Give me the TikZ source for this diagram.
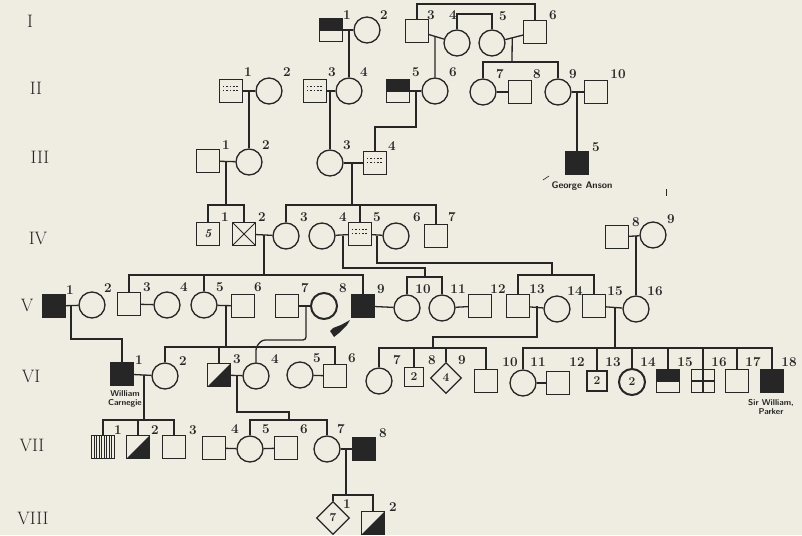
\documentclass[tikz,border=0pt]{standalone}
\usepackage{tikz}
\usetikzlibrary{shapes.geometric,calc}
\definecolor{paper}{HTML}{EFECE2}
\definecolor{ink}{HTML}{262626}

\tikzset{
  ln/.style={ink, line width=1.3pt},
  male/.style={draw=ink, line width=1.3pt, rectangle, minimum size=22.5pt, inner sep=0pt},
  female/.style={draw=ink, line width=1.3pt, circle, minimum size=26pt, inner sep=0pt},
  anysex/.style={draw=ink, line width=1.3pt, diamond, minimum size=31pt, inner sep=0pt},
  aff/.style={fill=ink},
  halfaff/.style={path picture={\fill[ink] (path picture bounding box.north west) rectangle ([yshift=-1pt]path picture bounding box.east);}},
  diagaff/.style={path picture={\fill[ink] (path picture bounding box.south west) -- (path picture bounding box.north east) -- (path picture bounding box.south east) -- cycle;}},
  speck/.style={path picture={\foreach \dy in {6.5pt,10.5pt}{\draw[ink, line width=1.4pt, dash pattern=on 1.6pt off 1.8pt] ([xshift=3pt,yshift=-\dy]path picture bounding box.north west) -- ([xshift=-3pt,yshift=-\dy]path picture bounding box.north east);}}},
  striped/.style={path picture={\foreach \k in {1,...,8}{\draw[ink, line width=1.1pt] ($(path picture bounding box.south west)!\k/9!(path picture bounding box.south east)$) -- ($(path picture bounding box.north west)!\k/9!(path picture bounding box.north east)$);}}},
  quad/.style={path picture={\draw[ink, line width=1.2pt] (path picture bounding box.north) -- (path picture bounding box.south) (path picture bounding box.west) -- (path picture bounding box.east);}},
  xmark/.style={path picture={\draw[ink, line width=1pt] (path picture bounding box.north west) -- (path picture bounding box.south east) (path picture bounding box.north east) -- (path picture bounding box.south west);}},
  num/.style={font=\bfseries\fontsize{13.5}{14}\selectfont, text=ink, inner sep=0pt},
  inner/.style={font=\bfseries\fontsize{12}{12}\selectfont, text=ink},
  gen/.style={font=\fontsize{18}{18}\selectfont, text=ink, inner sep=0pt},
  who/.style={font=\sffamily\bfseries\fontsize{8.5}{9}\selectfont, text=ink, inner sep=0pt}
}

\begin{document}
\begin{tikzpicture}[x=1pt, y=-1pt]
  % Paper
  \fill[paper] (0,0) rectangle (802,535);
  \useasboundingbox (0,0) rectangle (802,535);

  % Generation numerals
  \node[gen] (genI) at (30,21) {I};
  \node[gen] (genII) at (36,88) {II};
  \node[gen] (genIII) at (40,157) {III};
  \node[gen] (genIV) at (38,238) {IV};
  \node[gen] (genV) at (27,305) {V};
  \node[gen] (genVI) at (31,376) {VI};
  \node[gen] (genVII) at (32,445) {VII};
  \node[gen] (genVIII) at (33,518) {VIII};

  % Generation I
  \node[male, halfaff] (I-1) at (331,30) {};
  \node[female] (I-2) at (367,30) {};
  \node[male] (I-3) at (417,31) {};
  \node[female] (I-4) at (457,43) {};
  \node[female] (I-5) at (492,43) {};
  \node[male] (I-6) at (535,32) {};
  \node[num] (I-1n) at (347,15) {1};
  \node[num] (I-2n) at (384,15) {2};
  \node[num] (I-3n) at (431,15) {3};
  \node[num] (I-4n) at (453,15) {4};
  \node[num] (I-5n) at (503,16) {5};
  \node[num] (I-6n) at (553,15) {6};

  % Generation II
  \node[male, speck] (II-1) at (231,91) {};
  \node[female] (II-2) at (269,91) {};
  \node[male, speck] (II-3) at (315,91) {};
  \node[female] (II-4) at (349,91) {};
  \node[male, halfaff] (II-5) at (398,91) {};
  \node[female] (II-6) at (435,91) {};
  \node[female] (II-7) at (483,92) {};
  \node[male] (II-8) at (520,92) {};
  \node[female] (II-9) at (558,92) {};
  \node[male] (II-10) at (596,92) {};
  \node[num] (II-1n) at (248,72) {1};
  \node[num] (II-2n) at (287,72) {2};
  \node[num] (II-3n) at (332,72) {3};
  \node[num] (II-4n) at (364,72) {4};
  \node[num] (II-5n) at (416,72) {5};
  \node[num] (II-6n) at (453,72) {6};
  \node[num] (II-7n) at (500,74) {7};
  \node[num] (II-8n) at (537,74) {8};
  \node[num] (II-9n) at (573,74) {9};
  \node[num] (II-10n) at (618,74) {10};

  % Generation III
  \node[male] (III-1) at (208,161) {};
  \node[female] (III-2) at (249,162) {};
  \node[female] (III-3) at (330,163) {};
  \node[male, speck] (III-4) at (375,163) {};
  \node[male, aff] (III-5) at (577,163) {};
  \node[num] (III-1n) at (226,145) {1};
  \node[num] (III-2n) at (266,145) {2};
  \node[num] (III-3n) at (347,145) {3};
  \node[num] (III-4n) at (392,146) {4};
  \node[num] (III-5n) at (596,147) {5};
  \node[who, font=\sffamily\bfseries\fontsize{9.5}{10}\selectfont] (anson) at (582,186) {George Anson};

  % Generation IV
  \node[male, inner] (IV-1) at (208,234) {\itshape 5};
  \node[male, xmark] (IV-2) at (244,234) {};
  \node[female] (IV-3) at (286,236) {};
  \node[female] (IV-4) at (322,236) {};
  \node[male, speck] (IV-5) at (360,234) {};
  \node[female] (IV-6) at (396,236) {};
  \node[male] (IV-7) at (436,236) {};
  \node[male] (IV-8) at (617,237) {};
  \node[female] (IV-9) at (653,235) {};
  \node[num] (IV-1n) at (225,217) {1};
  \node[num] (IV-2n) at (262,217) {2};
  \node[num] (IV-3n) at (304,217) {3};
  \node[num] (IV-4n) at (343,217) {4};
  \node[num] (IV-5n) at (377,217) {5};
  \node[num] (IV-6n) at (417,217) {6};
  \node[num] (IV-7n) at (452,217) {7};
  \node[num] (IV-8n) at (636,222) {8};
  \node[num] (IV-9n) at (671,219) {9};

  % Generation V
  \node[male, aff] (V-1) at (54,306) {};
  \node[female] (V-2) at (92,305) {};
  \node[male] (V-3) at (129,304) {};
  \node[female] (V-4) at (167,305) {};
  \node[female] (V-5) at (204,305) {};
  \node[male] (V-6) at (243,306) {};
  \node[male] (V-7) at (287,306) {};
  \node[female, line width=2pt] (V-8) at (324,306) {};
  \node[male, aff] (V-9) at (363,306) {};
  \node[female] (V-10) at (407,308) {};
  \node[female] (V-11) at (442,308) {};
  \node[male] (V-12) at (480,306) {};
  \node[male] (V-13) at (518,306) {};
  \node[female] (V-14) at (557,309) {};
  \node[male] (V-15) at (594,306) {};
  \node[female] (V-16) at (636,309) {};
  \node[num] (V-1n) at (70,290) {1};
  \node[num] (V-2n) at (108,288) {2};
  \node[num] (V-3n) at (147,287) {3};
  \node[num] (V-4n) at (184,287) {4};
  \node[num] (V-5n) at (220,287) {5};
  \node[num] (V-6n) at (258,287) {6};
  \node[num] (V-7n) at (305,288) {7};
  \node[num] (V-8n) at (343,288) {8};
  \node[num] (V-9n) at (381,289) {9};
  \node[num] (V-10n) at (423,289) {10};
  \node[num] (V-11n) at (458,289) {11};
  \node[num] (V-12n) at (498,289) {12};
  \node[num] (V-13n) at (537,289) {13};
  \node[num] (V-14n) at (575,291) {14};
  \node[num] (V-15n) at (615,291) {15};
  \node[num] (V-16n) at (655,291) {16};

  % Generation VI
  \node[male, aff] (VI-1) at (122,374) {};
  \node[female] (VI-2) at (165,376) {};
  \node[male, diagaff] (VI-3) at (219,375) {};
  \node[female] (VI-4) at (256,376) {};
  \node[female] (VI-5) at (300,375) {};
  \node[male] (VI-6) at (335,376) {};
  \node[female] (VI-7) at (379,381) {};
  \node[male, inner, minimum size=19.5pt] (VI-8) at (414,377) {2};
  \node[anysex, inner] (VI-9) at (446,378) {4};
  \node[male] (VI-10) at (486,381) {};
  \node[female] (VI-11) at (523,383) {};
  \node[male] (VI-12) at (558,383) {};
  \node[male, inner, minimum size=20pt] (VI-13) at (597,381) {2};
  \node[female, inner, line width=2pt] (VI-14) at (632,382) {2};
  \node[male, halfaff] (VI-15) at (668,381) {};
  \node[male, quad] (VI-16) at (703,381) {};
  \node[male] (VI-17) at (737,381) {};
  \node[male, aff] (VI-18) at (772,381) {};
  \node[num] (VI-1n) at (139,360) {1};
  \node[num] (VI-2n) at (183,361) {2};
  \node[num] (VI-3n) at (237,359) {3};
  \node[num] (VI-4n) at (275,359) {4};
  \node[num] (VI-5n) at (317,358) {5};
  \node[num] (VI-6n) at (352,358) {6};
  \node[num] (VI-7n) at (397,360) {7};
  \node[num] (VI-8n) at (432,360) {8};
  \node[num] (VI-9n) at (462,360) {9};
  \node[num] (VI-10n) at (510,362) {10};
  \node[num] (VI-11n) at (538,362) {11};
  \node[num] (VI-12n) at (577,362) {12};
  \node[num] (VI-13n) at (613,362) {13};
  \node[num] (VI-14n) at (648,362) {14};
  \node[num] (VI-15n) at (685,362) {15};
  \node[num] (VI-16n) at (719,362) {16};
  \node[num] (VI-17n) at (753,362) {17};
  \node[num] (VI-18n) at (789,362) {18};
  \node[who, align=center] (carnegie) at (125,399) {William\\Carnegie};
  \node[who, align=center] (parker) at (771,407) {Sir William,\\Parker};

  % Generation VII
  \node[male, striped] (VII-1) at (103,447) {};
  \node[male, diagaff] (VII-2) at (138,447) {};
  \node[male] (VII-3) at (174,447) {};
  \node[male] (VII-4) at (214,448) {};
  \node[female] (VII-5) at (250,449) {};
  \node[male] (VII-6) at (286,448) {};
  \node[female] (VII-7) at (327,449) {};
  \node[male, aff] (VII-8) at (364,449) {};
  \node[num] (VII-1n) at (118,430) {1};
  \node[num] (VII-2n) at (155,430) {2};
  \node[num] (VII-3n) at (193,430) {3};
  \node[num] (VII-4n) at (235,429) {4};
  \node[num] (VII-5n) at (266,429) {5};
  \node[num] (VII-6n) at (304,429) {6};
  \node[num] (VII-7n) at (341,429) {7};
  \node[num] (VII-8n) at (383,433) {8};

  % Generation VIII
  \node[anysex, inner, minimum size=33pt] (VIII-1) at (333,518) {7};
  \node[male, diagaff] (VIII-2) at (373,523) {};
  \node[num] (VIII-1n) at (347,504) {1};
  \node[num] (VIII-2n) at (393,507) {2};

  % Brackets over generation I
  \coordinate (top36) at (476,4);
  \coordinate (top45) at (475,14);
  \draw[ln] (I-3.north) |- (top36) -| (I-6.north);
  \draw[ln] (I-4.north) |- (top45) -| (I-5.north);

  % Marriages and descent, I -> II
  \draw[ln] (I-1) -- (I-2);
  \draw[ln] (I-3) -- (I-4);
  \draw[ln] (I-5) -- (I-6);
  \coordinate (m-I-12) at (349,30);
  \coordinate (m-I-34) at ($(I-3)!0.45!(I-4)$);
  \coordinate (m-I-56) at ($(I-5)!0.47!(I-6)$);
  \coordinate (s-II) at (512,62);
  \draw[ln] (m-I-12) -- (II-4.north);
  \draw[ln] (m-I-34) -- (II-6.north);
  \draw[ln] (m-I-56) -- (s-II);
  \draw[ln] (II-7.north) |- (s-II) -| (II-9.north);

  % II -> III
  \draw[ln] (II-1) -- (II-2);
  \draw[ln] (II-3) -- (II-4);
  \draw[ln] (II-5) -- (II-6);
  \draw[ln] (II-7) -- (II-8);
  \draw[ln] (II-9) -- (II-10);
  \coordinate (m-II-12) at (249,91);
  \coordinate (m-II-34) at (330,91);
  \coordinate (m-II-56) at (416,91);
  \coordinate (j-II-56) at (416,127);
  \coordinate (m-II-910) at (577,92);
  \draw[ln] (m-II-12) -- (III-2.north);
  \draw[ln] (m-II-34) -- (III-3.north);
  \draw[ln] (m-II-56) -- (j-II-56) -| (III-4.north);
  \draw[ln] (m-II-910) -- (III-5.north);

  % III -> IV
  \draw[ln] (III-1) -- (III-2);
  \draw[ln] (III-3) -- (III-4);
  \coordinate (m-III-12) at (226,161);
  \coordinate (s-IV-a) at (226,205);
  \coordinate (m-III-34) at (352,163);
  \coordinate (s-IV-b) at (352,205);
  \draw[ln] (m-III-12) -- (s-IV-a);
  \draw[ln] (IV-1.north) |- (s-IV-a) -| (IV-2.north);
  \draw[ln] (m-III-34) -- (s-IV-b);
  \draw[ln] (IV-3.north) |- (s-IV-b) -| (IV-7.north);
  \draw[ln] (IV-5.north) -- (IV-5.north |- s-IV-b);

  % IV -> V
  \draw[ln] (IV-2) -- (IV-3);
  \draw[ln] (IV-4) -- (IV-5);
  \draw[ln] (IV-5) -- (IV-6);
  \draw[ln] (IV-8) -- (IV-9);
  \coordinate (m-IV-23) at (264,235);
  \coordinate (s-V-a) at (264,275);
  \coordinate (m-IV-45) at (343,236);
  \coordinate (j-IV-45) at (425,268);
  \coordinate (s-V-b) at (425,277);
  \coordinate (m-IV-56) at (377,236);
  \coordinate (j-IV-56) at (552,263);
  \coordinate (s-V-c) at (552,275);
  \coordinate (m-IV-89) at (636,236);
  \draw[ln] (m-IV-23) -- (s-V-a);
  \draw[ln] (V-3.north) |- (s-V-a) -| (V-9.north);
  \draw[ln] (V-5.north) -- (V-5.north |- s-V-a);
  \draw[ln] (m-IV-45) |- (j-IV-45) -- (s-V-b);
  \draw[ln] (V-10.north) |- (s-V-b) -| (V-11.north);
  \draw[ln] (m-IV-56) |- (j-IV-56) -- (s-V-c);
  \draw[ln] (V-13.north) |- (s-V-c) -| (V-15.north);
  \draw[ln] (m-IV-89) -- (V-16.north);

  % V -> VI
  \draw[ln] (V-1) -- (V-2);
  \draw[ln] (V-3) -- (V-4);
  \draw[ln] (V-5) -- (V-6);
  \draw[ln] (V-7) -- (V-8);
  \draw[ln] (V-9) -- (V-10);
  \draw[ln] (V-11) -- (V-12);
  \draw[ln] (V-13) -- (V-14);
  \draw[ln] (V-15) -- (V-16);
  \coordinate (m-V-12) at (71,306);
  \coordinate (j-V-12) at (71,339);
  \coordinate (m-V-56) at (226,305);
  \coordinate (s-VI-a) at (226,347);
  \coordinate (m-V-78) at (306,306);
  \coordinate (j-V-78) at (262,340);
  \coordinate (m-V-1314) at (537,306);
  \coordinate (j-V-1314) at (433,337);
  \coordinate (s-VI-b) at (433,348);
  \coordinate (m-V-1516) at (615,307);
  \coordinate (s-VI-c) at (615,348);
  \draw[ln] (m-V-12) -- (j-V-12) -| (VI-1.north);
  \draw[ln] (m-V-56) -- (s-VI-a);
  \draw[ln] (VI-2.north) |- (s-VI-a) -| (VI-6.north);
  \draw[ln] (VI-3.north) -- (VI-3.north |- s-VI-a);
  \draw[ln, rounded corners=3pt] (m-V-78) |- (j-V-78) -- (VI-4.north |- s-VI-a) -- (VI-4.north);
  \draw[ln] (m-V-1314) |- (j-V-1314) -- (s-VI-b);
  \draw[ln] (VI-7.north) |- (s-VI-b) -| (VI-10.north);
  \draw[ln] (VI-8.north) -- (VI-8.north |- s-VI-b);
  \draw[ln] (VI-9.north) -- (VI-9.north |- s-VI-b);
  \draw[ln] (m-V-1516) -- (s-VI-c);
  \draw[ln] (VI-11.north) |- (s-VI-c) -| (VI-18.north);
  \foreach \c in {VI-13,VI-14,VI-15,VI-16,VI-17}
    \draw[ln] (\c.north) -- (\c.north |- s-VI-c);

  % VI -> VII
  \draw[ln] (VI-1) -- (VI-2);
  \draw[ln] (VI-3) -- (VI-4);
  \draw[ln] (VI-5) -- (VI-6);
  \draw[ln] (VI-11) -- (VI-12);
  \coordinate (m-VI-12) at (144,375);
  \coordinate (s-VII-a) at (144,420);
  \coordinate (m-VI-34) at (237,375);
  \coordinate (j-VI-34) at (289,412);
  \coordinate (s-VII-b) at (289,420);
  \draw[ln] (m-VI-12) -- (s-VII-a);
  \draw[ln] (VII-1.north) |- (s-VII-a) -| (VII-3.north);
  \draw[ln] (VII-2.north) -- (VII-2.north |- s-VII-a);
  \draw[ln] (m-VI-34) |- (j-VI-34) -- (s-VII-b);
  \draw[ln] (VII-5.north) |- (s-VII-b) -| (VII-7.north);

  % VII -> VIII
  \draw[ln] (VII-4) -- (VII-5);
  \draw[ln] (VII-5) -- (VII-6);
  \draw[ln] (VII-7) -- (VII-8);
  \coordinate (m-VII-78) at (346,449);
  \coordinate (s-VIII) at (346,495);
  \draw[ln] (m-VII-78) -- (s-VIII);
  \draw[ln] (VIII-1.north) |- (s-VIII) -| (VIII-2.north);

  % Pointer and stray marks
  \fill[ink] (330,331) -- (333,328) -- (341,325) -- (350,320) -- (347,325) -- (343,329) -- (339,333) -- (334,337) -- cycle;
  \draw[ink, line width=0.6pt] (543,180) -- (549,176);
  \draw[ink, line width=0.8pt] (666,189) -- (666,196);
\end{tikzpicture}
\end{document}
